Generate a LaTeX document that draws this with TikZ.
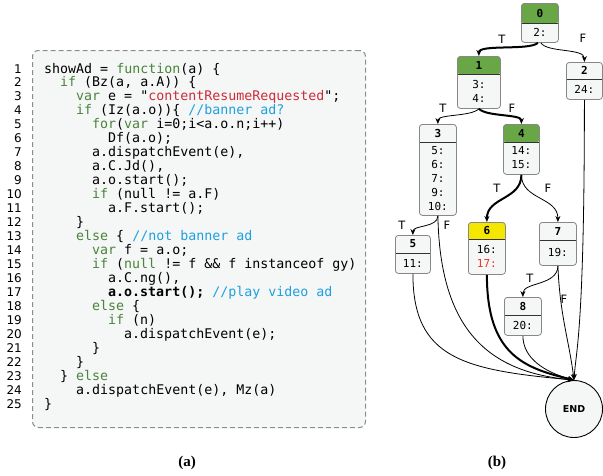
\documentclass[tikz,border=0pt]{standalone}
\usepackage{fontspec}
\usetikzlibrary{arrows.meta}
\newfontfamily\codefont{DejaVu Sans Mono}
\newfontfamily\sansf{DejaVu Sans}
\newfontfamily\capfont{Liberation Serif}
\definecolor{kw}{RGB}{72,132,58}
\definecolor{str}{RGB}{205,45,55}
\definecolor{com}{RGB}{30,160,222}
\definecolor{codebg}{RGB}{245,246,246}
\definecolor{dashgray}{RGB}{140,140,140}
\definecolor{boxgray}{RGB}{135,135,135}
\definecolor{boxfill}{RGB}{245,246,246}
\definecolor{hgreen}{RGB}{104,166,70}
\definecolor{hyellow}{RGB}{245,230,0}
\definecolor{redtxt}{RGB}{238,50,50}
\tikzset{
  codetxt/.style={anchor=base west, inner sep=0pt, font=\codefont\fontsize{13.3}{14}\selectfont},
  lnum/.style={anchor=base east, inner sep=0pt, font=\sansf\fontsize{12}{14}\selectfont},
  cfg/.style={draw=boxgray, fill=boxfill, rounded corners=3pt, line width=0.8pt, inner sep=0pt, anchor=north west},
  divider/.style={draw=black!80, line width=0.8pt},
  titletxt/.style={inner sep=0pt, font=\codefont\bfseries\fontsize{11}{13}\selectfont},
  bodytxt/.style={inner sep=0pt, align=center, font=\codefont\fontsize{11}{14}\selectfont},
  edge/.style={draw=black, line width=0.8pt, -{Stealth[length=6pt,width=5pt]}},
  thickedge/.style={edge, line width=2pt},
  lbl/.style={inner sep=0pt, font=\sansf\fontsize{11.5}{13}\selectfont},
  captxt/.style={inner sep=0pt, font=\capfont\bfseries\fontsize{15}{17}\selectfont}
}
\newcommand\codeline[3]{%
  \node[lnum] (ln#1) at (22,{73+13.96*(#1-1)}) {#1};
  \node[codetxt] (cl#1) at ({44+16*#2},{73+13.96*(#1-1)}) {#3};
}
% name, xleft, ytop, width, header h, total h, header color, title, body
\newcommand\cfgnode[9]{%
  \node[cfg, minimum width=#4pt, minimum height=#6pt, path picture={
      \fill[#7] (path picture bounding box.north west) rectangle ([yshift=-#5pt]path picture bounding box.north east);
      \draw[divider] ([yshift=-#5pt]path picture bounding box.north west) -- ([yshift=-#5pt]path picture bounding box.north east);
    }] (#1) at (#2,#3) {};
  \node[titletxt] (#1t) at ([yshift=-#5pt/2]#1.north) {#8};
  \node[bodytxt] (#1b) at ([yshift={-(#5+(#6-#5)/2)*1pt}]#1.north) {#9};
}
\begin{document}
\begin{tikzpicture}[x=1pt,y=-1pt]
\useasboundingbox (0,0) rectangle (603,475);
% ---- code panel ----
\node[draw=dashgray, fill=codebg, dash pattern=on 5pt off 3pt, line width=1pt, rounded corners=6pt,
      minimum width=333pt, minimum height=377pt, anchor=north west, inner sep=0pt] (codebox) at (32,50) {};
\frenchspacing
\codeline{1}{0}{showAd = \textcolor{kw}{function}(a) \{}
\codeline{2}{1}{\textcolor{kw}{if} (Bz(a, a.A)) \{}
\codeline{3}{2}{\textcolor{kw}{var} e = "\textcolor{str}{contentResumeRequested}";}
\codeline{4}{2}{\textcolor{kw}{if} (Iz(a.o))\{ \textcolor{com}{//banner ad?}}
\codeline{5}{3}{\textcolor{kw}{for}(\textcolor{kw}{var} i=0;i<a.o.n;i++)}
\codeline{6}{4}{Df(a.o);}
\codeline{7}{3}{a.dispatchEvent(e),}
\codeline{8}{3}{a.C.Jd(),}
\codeline{9}{3}{a.o.start();}
\codeline{10}{3}{\textcolor{kw}{if} (null != a.F)}
\codeline{11}{4}{a.F.start();}
\codeline{12}{2}{\}}
\codeline{13}{2}{\textcolor{kw}{else} \{ \textcolor{com}{//not banner ad}}
\codeline{14}{3}{\textcolor{kw}{var} f = a.o;}
\codeline{15}{3}{\textcolor{kw}{if} (\textcolor{kw}{null} != f \&\& f instanceof gy)}
\codeline{16}{4}{a.C.ng(),}
\codeline{17}{4}{{\bfseries a.o.start();} \textcolor{com}{//play video ad}}
\codeline{18}{3}{\textcolor{kw}{else} \{}
\codeline{19}{4}{\textcolor{kw}{if} (n)}
\codeline{20}{5}{a.dispatchEvent(e);}
\codeline{21}{3}{\}}
\codeline{22}{2}{\}}
\codeline{23}{1}{\} \textcolor{kw}{else}}
\codeline{24}{2}{a.dispatchEvent(e), Mz(a)}
\codeline{25}{0}{\}}
\node[captxt] (capa) at (187,463) {(a)};
% ---- CFG ----
\cfgnode{g0}{521}{3}{37}{20}{39}{hgreen}{0}{2:}
\cfgnode{g1}{457}{56}{43}{18}{52}{hgreen}{1}{3:\\4:}
\cfgnode{g2}{566}{62}{36}{17}{37}{boxfill}{2}{24:}
\cfgnode{g3}{419}{124}{37}{18}{91}{boxfill}{3}{5:\\6:\\7:\\9:\\10:}
\cfgnode{g4}{503}{124}{36}{18}{50}{hgreen}{4}{14:\\15:}
\cfgnode{g5}{395}{235}{35}{18}{38}{boxfill}{5}{11:}
\cfgnode{g6}{468}{222}{37}{17}{52}{hyellow}{6}{16:\\\textcolor{redtxt}{17:}}
\cfgnode{g7}{539}{222}{37}{18}{43}{boxfill}{7}{19:}
\cfgnode{g8}{504}{297}{37}{18}{38}{boxfill}{8}{20:}
\node[circle, draw=black, line width=0.9pt, fill=boxfill, minimum size=57pt, inner sep=0pt,
      font=\sansf\bfseries\fontsize{9.5}{11}\selectfont] (end) at (574,409) {END};
% edges
\draw[thickedge] ([xshift=-2pt]g0.south) .. controls +(-8,8) and +(0,-12) .. (g1.north);
\draw[edge] ([xshift=1pt]g0.south) .. controls +(6,10) and +(0,-14) .. (g2.north);
\draw[edge] (g1.south) .. controls +(-8,8) and +(0,-10) .. (g3.north);
\draw[thickedge] (g1.south) .. controls +(8,8) and +(0,-10) .. (g4.north);
\draw[edge] (g3.south) .. controls +(0,12) and +(0,-10) .. (g5.north);
\draw[thickedge] (g4.south) .. controls +(0,25) and +(0,-25) .. (g6.north);
\draw[edge] (g4.south) .. controls +(0,25) and +(0,-25) .. (g7.north);
\draw[edge] (g7.south) .. controls +(0,20) and +(0,-15) .. (g8.north);
\draw[edge] (g2.south) .. controls +(0,230) and +(2,-30) .. (end.north);
\draw[edge] (g3.south) .. controls +(2,115) and +(-85,-8) .. (end.north);
\draw[edge] (g5.south) .. controls +(0,85) and +(-110,-10) .. (end.north);
\draw[thickedge] (g6.south) .. controls +(0,80) and +(-50,-12) .. (end.north);
\draw[edge] (g7.south) .. controls +(2,50) and +(-5,-40) .. (end.north);
\draw[edge] (g8.south) .. controls +(0,22) and +(-30,-8) .. (end.north);
% labels
\node[lbl] (t01) at (502,39) {T};
\node[lbl] (f02) at (583,38) {F};
\node[lbl] (t13) at (443,108) {T};
\node[lbl] (f14) at (512,108) {F};
\node[lbl] (t35) at (402,225) {T};
\node[lbl] (f3e) at (447,225) {F};
\node[lbl] (t46) at (497,188) {T};
\node[lbl] (f47) at (548,188) {F};
\node[lbl] (t78) at (530,278) {T};
\node[lbl] (f7e) at (564,299) {F};
\node[captxt] (capb) at (497,463) {(b)};
\end{tikzpicture}
\end{document}
